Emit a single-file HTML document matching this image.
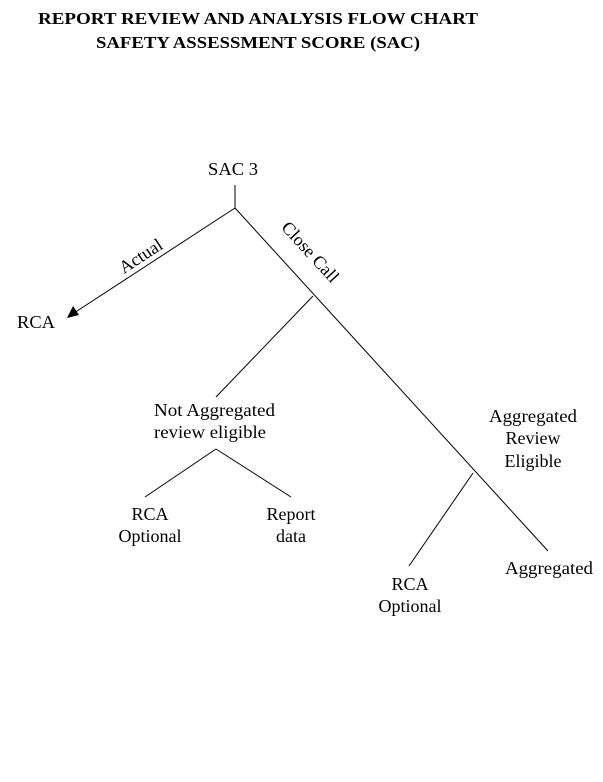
<!DOCTYPE html>
<html><head><style>
body{margin:0;background:#fff;}
svg text{font-family:"Liberation Serif",serif;font-size:18px;fill:#000;}
</style></head><body>
<svg width="603" height="777" xmlns="http://www.w3.org/2000/svg">
<text x="38" y="24" textLength="440" lengthAdjust="spacingAndGlyphs" style="font-weight:bold;font-size:17px">REPORT REVIEW AND ANALYSIS FLOW CHART</text>
<text x="96" y="48" textLength="324" lengthAdjust="spacingAndGlyphs" style="font-weight:bold;font-size:17px">SAFETY ASSESSMENT SCORE (SAC)</text>
<text x="208" y="175" textLength="50" lengthAdjust="spacingAndGlyphs">SAC 3</text>
<g stroke="#000" stroke-width="1" fill="none">
<line x1="235" y1="185" x2="235" y2="208"/>
<line x1="235" y1="208" x2="74" y2="313"/>
<line x1="235" y1="208" x2="548" y2="551"/>
<line x1="313" y1="296" x2="216" y2="397"/>
<line x1="216" y1="449" x2="145" y2="497"/>
<line x1="216" y1="449" x2="291" y2="497"/>
<line x1="473" y1="473" x2="409" y2="566"/>
</g>
<polygon points="67,318 79,315 73,306" fill="#000"/>
<text x="17" y="328" textLength="38" lengthAdjust="spacingAndGlyphs">RCA</text>
<text x="0" y="0" text-anchor="middle" transform="translate(144,261) rotate(-33)">Actual</text>
<text x="0" y="0" text-anchor="middle" transform="translate(306,256) rotate(47.5)">Close Call</text>
<text x="154" y="416" textLength="121" lengthAdjust="spacingAndGlyphs">Not Aggregated</text>
<text x="154" y="438" textLength="112" lengthAdjust="spacingAndGlyphs">review eligible</text>
<text x="489" y="422" textLength="88" lengthAdjust="spacingAndGlyphs">Aggregated</text>
<text x="533" y="444" text-anchor="middle">Review</text>
<text x="533" y="467" text-anchor="middle">Eligible</text>
<text x="150" y="520" text-anchor="middle">RCA</text>
<text x="150" y="542" text-anchor="middle">Optional</text>
<text x="291" y="520" text-anchor="middle">Report</text>
<text x="291" y="542" text-anchor="middle">data</text>
<text x="410" y="590" text-anchor="middle">RCA</text>
<text x="410" y="612" text-anchor="middle">Optional</text>
<text x="505" y="574" textLength="88" lengthAdjust="spacingAndGlyphs">Aggregated</text>
</svg>
</body></html>
